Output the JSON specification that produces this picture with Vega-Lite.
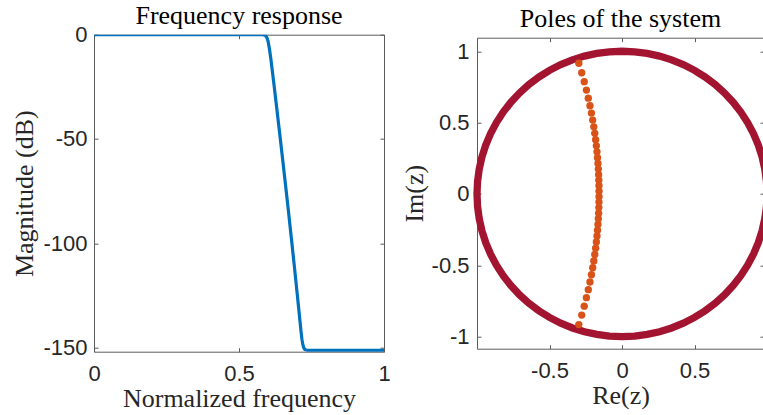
{
  "$schema": "https://vega.github.io/schema/vega-lite/v6.json",
  "padding": {"left": 11, "top": 1.7, "right": 0, "bottom": 0},
  "background": "white",
  "bounds": "flush",
  "center": true,
  "spacing": 93,
  "datasets": {
    "freq": [
      {"f": 0, "db": 0}, {"f": 0.1, "db": 0}, {"f": 0.2, "db": 0}, {"f": 0.3, "db": 0}, {"f": 0.4, "db": 0},
      {"f": 0.5, "db": 0}, {"f": 0.55, "db": -0.001}, {"f": 0.57, "db": -0.005}, {"f": 0.58, "db": -0.023},
      {"f": 0.585, "db": -0.083}, {"f": 0.59, "db": -0.303}, {"f": 0.595, "db": -0.994}, {"f": 0.6, "db": -3.01},
      {"f": 0.605, "db": -6.9}, {"f": 0.61, "db": -11.8}, {"f": 0.62, "db": -23.2}, {"f": 0.63, "db": -35.0},
      {"f": 0.64, "db": -47.0}, {"f": 0.65, "db": -59.2}, {"f": 0.66, "db": -71.5}, {"f": 0.67, "db": -84.0},
      {"f": 0.68, "db": -96.9}, {"f": 0.69, "db": -109.9}, {"f": 0.7, "db": -123.3}, {"f": 0.705, "db": -130.1},
      {"f": 0.71, "db": -137.0}, {"f": 0.714, "db": -142.5}, {"f": 0.717, "db": -146.0}, {"f": 0.72, "db": -148.5},
      {"f": 0.723, "db": -150.0}, {"f": 0.727, "db": -150.9}, {"f": 0.733, "db": -151.3}, {"f": 0.74, "db": -151.4},
      {"f": 0.8, "db": -151.4}, {"f": 0.9, "db": -151.4}, {"f": 1.0, "db": -151.4}
    ],
    "circle": [
      {"k": 0, "re": 1, "im": 0}, {"k": 1, "re": 0.9962, "im": 0.0872}, {"k": 2, "re": 0.9848, "im": 0.1736},
      {"k": 3, "re": 0.9659, "im": 0.2588}, {"k": 4, "re": 0.9397, "im": 0.342}, {"k": 5, "re": 0.9063, "im": 0.4226},
      {"k": 6, "re": 0.866, "im": 0.5}, {"k": 7, "re": 0.8192, "im": 0.5736}, {"k": 8, "re": 0.766, "im": 0.6428},
      {"k": 9, "re": 0.7071, "im": 0.7071}, {"k": 10, "re": 0.6428, "im": 0.766}, {"k": 11, "re": 0.5736, "im": 0.8192},
      {"k": 12, "re": 0.5, "im": 0.866}, {"k": 13, "re": 0.4226, "im": 0.9063}, {"k": 14, "re": 0.342, "im": 0.9397},
      {"k": 15, "re": 0.2588, "im": 0.9659}, {"k": 16, "re": 0.1736, "im": 0.9848}, {"k": 17, "re": 0.0872, "im": 0.9962},
      {"k": 18, "re": 0, "im": 1}, {"k": 19, "re": -0.0872, "im": 0.9962}, {"k": 20, "re": -0.1736, "im": 0.9848},
      {"k": 21, "re": -0.2588, "im": 0.9659}, {"k": 22, "re": -0.342, "im": 0.9397}, {"k": 23, "re": -0.4226, "im": 0.9063},
      {"k": 24, "re": -0.5, "im": 0.866}, {"k": 25, "re": -0.5736, "im": 0.8192}, {"k": 26, "re": -0.6428, "im": 0.766},
      {"k": 27, "re": -0.7071, "im": 0.7071}, {"k": 28, "re": -0.766, "im": 0.6428}, {"k": 29, "re": -0.8192, "im": 0.5736},
      {"k": 30, "re": -0.866, "im": 0.5}, {"k": 31, "re": -0.9063, "im": 0.4226}, {"k": 32, "re": -0.9397, "im": 0.342},
      {"k": 33, "re": -0.9659, "im": 0.2588}, {"k": 34, "re": -0.9848, "im": 0.1736}, {"k": 35, "re": -0.9962, "im": 0.0872},
      {"k": 36, "re": -1, "im": 0}, {"k": 37, "re": -0.9962, "im": -0.0872}, {"k": 38, "re": -0.9848, "im": -0.1736},
      {"k": 39, "re": -0.9659, "im": -0.2588}, {"k": 40, "re": -0.9397, "im": -0.342}, {"k": 41, "re": -0.9063, "im": -0.4226},
      {"k": 42, "re": -0.866, "im": -0.5}, {"k": 43, "re": -0.8192, "im": -0.5736}, {"k": 44, "re": -0.766, "im": -0.6428},
      {"k": 45, "re": -0.7071, "im": -0.7071}, {"k": 46, "re": -0.6428, "im": -0.766}, {"k": 47, "re": -0.5736, "im": -0.8192},
      {"k": 48, "re": -0.5, "im": -0.866}, {"k": 49, "re": -0.4226, "im": -0.9063}, {"k": 50, "re": -0.342, "im": -0.9397},
      {"k": 51, "re": -0.2588, "im": -0.9659}, {"k": 52, "re": -0.1736, "im": -0.9848}, {"k": 53, "re": -0.0872, "im": -0.9962},
      {"k": 54, "re": 0, "im": -1}, {"k": 55, "re": 0.0872, "im": -0.9962}, {"k": 56, "re": 0.1736, "im": -0.9848},
      {"k": 57, "re": 0.2588, "im": -0.9659}, {"k": 58, "re": 0.342, "im": -0.9397}, {"k": 59, "re": 0.4226, "im": -0.9063},
      {"k": 60, "re": 0.5, "im": -0.866}, {"k": 61, "re": 0.5736, "im": -0.8192}, {"k": 62, "re": 0.6428, "im": -0.766},
      {"k": 63, "re": 0.7071, "im": -0.7071}, {"k": 64, "re": 0.766, "im": -0.6428}, {"k": 65, "re": 0.8192, "im": -0.5736},
      {"k": 66, "re": 0.866, "im": -0.5}, {"k": 67, "re": 0.9063, "im": -0.4226}, {"k": 68, "re": 0.9397, "im": -0.342},
      {"k": 69, "re": 0.9659, "im": -0.2588}, {"k": 70, "re": 0.9848, "im": -0.1736}, {"k": 71, "re": 0.9962, "im": -0.0872},
      {"k": 72, "re": 1, "im": 0}
    ],
    "poles": [
      {"re": -0.29789, "im": 0.91611}, {"re": -0.27795, "im": 0.8495}, {"re": -0.26065, "im": 0.7868},
      {"re": -0.24561, "im": 0.72754}, {"re": -0.23249, "im": 0.67129}, {"re": -0.22102, "im": 0.61773},
      {"re": -0.21098, "im": 0.56653}, {"re": -0.20219, "im": 0.51739}, {"re": -0.1945, "im": 0.47009},
      {"re": -0.18779, "im": 0.4244}, {"re": -0.18195, "im": 0.38011}, {"re": -0.1769, "im": 0.33705},
      {"re": -0.17256, "im": 0.29505}, {"re": -0.16888, "im": 0.25396}, {"re": -0.16581, "im": 0.21365},
      {"re": -0.16331, "im": 0.17396}, {"re": -0.16134, "im": 0.13478}, {"re": -0.15988, "im": 0.096},
      {"re": -0.15892, "im": 0.05749}, {"re": -0.15845, "im": 0.01914},
      {"re": -0.29789, "im": -0.91611}, {"re": -0.27795, "im": -0.8495}, {"re": -0.26065, "im": -0.7868},
      {"re": -0.24561, "im": -0.72754}, {"re": -0.23249, "im": -0.67129}, {"re": -0.22102, "im": -0.61773},
      {"re": -0.21098, "im": -0.56653}, {"re": -0.20219, "im": -0.51739}, {"re": -0.1945, "im": -0.47009},
      {"re": -0.18779, "im": -0.4244}, {"re": -0.18195, "im": -0.38011}, {"re": -0.1769, "im": -0.33705},
      {"re": -0.17256, "im": -0.29505}, {"re": -0.16888, "im": -0.25396}, {"re": -0.16581, "im": -0.21365},
      {"re": -0.16331, "im": -0.17396}, {"re": -0.16134, "im": -0.13478}, {"re": -0.15988, "im": -0.096},
      {"re": -0.15892, "im": -0.05749}, {"re": -0.15845, "im": -0.01914}
    ]
  },
  "hconcat": [
    {
      "width": 290,
      "height": 317,
      "title": {"text": "Frequency response", "offset": -5.2},
      "data": {"name": "freq"},
      "layer": [
        {
          "mark": {"type": "line", "color": "#0072BD", "strokeWidth": 3.2, "clip": true},
          "encoding": {
            "x": {"field": "f", "type": "quantitative", "scale": {"domain": [0, 1], "nice": false, "zero": false},
                  "axis": {"orient": "bottom", "values": [0, 0.5, 1], "labelExpr": "'' + datum.value", "labelPadding": 16,
                           "title": "Normalized frequency", "titleX": 145, "titleY": 55, "titleBaseline": "alphabetic", "titleAlign": "center"}},
            "y": {"field": "db", "type": "quantitative", "scale": {"domain": [-152, 0], "nice": false, "zero": false},
                  "axis": {"orient": "left", "values": [0, -50, -100, -150], "labelExpr": "'' + datum.value", "labelPadding": 11,
                           "title": "Magnitude (dB)", "titleX": -61.3, "titleY": 158.5, "titleAngle": 270, "titleBaseline": "alphabetic", "titleAlign": "center"}}
          }
        },
        {
          "mark": {"type": "line", "strokeOpacity": 0},
          "encoding": {
            "x": {"field": "f", "type": "quantitative", "axis": {"orient": "top", "values": [0, 0.5, 1], "labels": false, "title": null}},
            "y": {"field": "db", "type": "quantitative", "axis": {"orient": "right", "values": [0, -50, -100, -150], "labels": false, "title": null}}
          }
        }
      ],
      "resolve": {"axis": {"x": "independent", "y": "independent"}}
    },
    {
      "width": 287,
      "height": 311,
      "title": {"text": "Poles of the system", "offset": 5},
      "layer": [
        {
          "data": {"name": "circle"},
          "mark": {"type": "line", "color": "#A2142F", "strokeWidth": 7.3, "strokeCap": "round"},
          "encoding": {
            "x": {"field": "re", "type": "quantitative", "scale": {"domain": [-1, 0.979], "nice": false, "zero": false},
                  "axis": {"orient": "bottom", "values": [-0.5, 0, 0.5], "labelExpr": "'' + datum.value", "labelPadding": 16,
                           "title": "Re(z)", "titleX": 143.5, "titleY": 55, "titleBaseline": "alphabetic", "titleAlign": "center"}},
            "y": {"field": "im", "type": "quantitative", "scale": {"domain": [-1.085, 1.095], "nice": false, "zero": false},
                  "axis": {"orient": "left", "values": [-1, -0.5, 0, 0.5, 1], "labelExpr": "'' + datum.value", "labelPadding": 12,
                           "title": "Im(z)", "titleX": -54.3, "titleY": 155.5, "titleAngle": 270, "titleBaseline": "alphabetic", "titleAlign": "center"}},
            "order": {"field": "k", "type": "quantitative"}
          }
        },
        {
          "data": {"name": "poles"},
          "mark": {"type": "point", "filled": true, "shape": "circle", "size": 54, "color": "#D95319", "opacity": 1},
          "encoding": {
            "x": {"field": "re", "type": "quantitative", "axis": {"orient": "top", "values": [-0.5, 0, 0.5], "labels": false, "title": null}},
            "y": {"field": "im", "type": "quantitative", "axis": {"orient": "right", "values": [-1, -0.5, 0, 0.5, 1], "labels": false, "title": null}}
          }
        }
      ],
      "resolve": {"axis": {"x": "independent", "y": "independent"}}
    }
  ],
  "config": {
    "view": {"stroke": "#5a5a5a", "strokeWidth": 1},
    "axis": {
      "domain": false, "grid": false, "ticks": true, "tickSize": -4, "tickColor": "#5a5a5a", "tickWidth": 1,
      "labelFont": "Liberation Sans", "labelFontSize": 22, "labelColor": "#262626", "labelOverlap": false, "labelFlush": false, "labelBound": false,
      "titleFont": "Liberation Serif", "titleFontSize": 26, "titleFontWeight": "normal", "titleColor": "#262626"
    },
    "title": {"font": "Liberation Serif", "fontSize": 26, "fontWeight": "normal", "color": "#000000", "baseline": "alphabetic", "frame": "group", "anchor": "middle"}
  }
}
